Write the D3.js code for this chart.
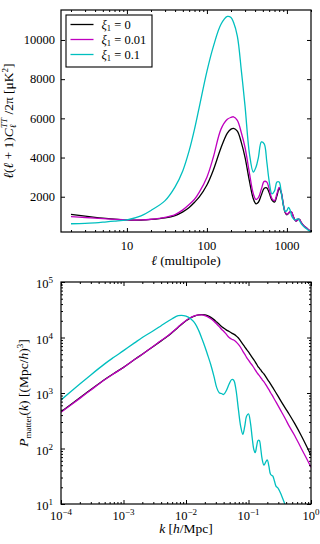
<!DOCTYPE html>
<html lang="en">
<head>
<meta charset="utf-8">
<title>CMB TT spectrum and matter power spectrum</title>
<script src="https://cdn.jsdelivr.net/npm/d3@7"></script>
<style>
  html, body { margin: 0; padding: 0; background: #fff; }
  svg { display: block; }
</style>
</head>
<body>
<div id="chart"></div>
<script>
// ---- data ----
var xiLabels = ["0", "0.01", "0.1"];
var lineColors = ["#000000", "#bf00bf", "#00bfbf"];

// top panel: l(l+1)C_l/2pi  [muK^2]
var ell = [2, 3, 4, 5, 7, 10, 15, 20, 30, 40, 50, 60, 70, 80, 100, 120, 150, 180, 200, 215,
  240, 270, 300, 340, 380, 410, 440, 480, 520, 560, 600, 650, 700, 750, 800, 850, 900, 950,
  1000, 1050, 1100, 1150, 1200, 1250, 1300, 1350, 1400, 1450, 1500, 1600, 1700, 1850, 2000];
var clXi0 = [1100, 1010, 950, 910, 860, 815, 810, 840, 920, 1040, 1230, 1450, 1720, 1980, 2600, 3350, 4500, 5250, 5450, 5490,
  5350, 4750, 4000, 2800, 1900, 1640, 1720, 2100, 2430, 2450, 2200, 1830, 1730, 2050, 2420, 2200, 1600, 1200,
  1080, 1150, 1230, 1200, 1000, 830, 760, 800, 850, 830, 700, 550, 450, 330, 240];
var clXi001 = [980, 940, 910, 880, 845, 815, 815, 850, 950, 1090, 1330, 1600, 1870, 2220, 3000, 4000, 5450, 5950, 6050, 6080,
  5900, 5250, 4500, 3200, 2150, 1860, 1950, 2400, 2780, 2750, 2400, 1900, 1800, 2150, 2480, 2250, 1650, 1230,
  1100, 1170, 1250, 1210, 1000, 830, 760, 800, 850, 830, 700, 550, 450, 330, 240];
var clXi01 = [620, 640, 670, 700, 750, 820, 1020, 1300, 1800, 2500, 3330, 4350, 5450, 6550, 8400, 9650, 10800, 11200, 11150, 10900,
  10200, 8400, 6600, 4200, 3260, 3500, 4000, 4800, 4700, 3800, 2800, 2150, 2300, 2750, 2750, 2200, 1600, 1250,
  1300, 1460, 1300, 1000, 880, 820, 830, 870, 860, 750, 640, 500, 400, 290, 210];

// bottom panel: P_matter(k)  [(Mpc/h)^3]
var kh = [1e-4, 2e-4, 3e-4, 5e-4, 7e-4, 1e-3, 1.5e-3, 2e-3, 3e-3, 4e-3, 5e-3, 6e-3, 7.5e-3, 0.01, 0.012,
  0.014, 0.016, 0.018, 0.02, 0.022, 0.025, 0.028, 0.031, 0.034, 0.037, 0.04, 0.044, 0.049, 0.054, 0.058,
  0.063, 0.069, 0.075, 0.081, 0.087, 0.093, 0.1, 0.107, 0.115, 0.122, 0.128, 0.135, 0.142, 0.149, 0.157,
  0.165, 0.177, 0.19, 0.2, 0.212, 0.226, 0.244, 0.26, 0.275, 0.3, 0.34, 0.39, 0.45, 0.55, 0.7, 0.85, 1.0];
var pkXi0 = [460, 820, 1150, 1750, 2250, 2900, 4000, 5000, 6900, 8700, 10400, 12300, 15300, 20000, 22800,
  24600, 25500, 25800, 25500, 24700, 23000, 21000, 19000, 17300, 15800, 14800, 13700, 12800, 12000, 11500,
  10800, 9800, 8600, 7600, 6800, 6100, 5500, 4900, 4350, 3950, 3650, 3300, 3000, 2800, 2600,
  2400, 2200, 1950, 1780, 1620, 1450, 1260, 1120, 1010, 860, 680, 530, 410, 280, 170, 110, 75];
var pkXi001 = [450, 800, 1130, 1730, 2230, 2880, 4000, 5000, 6950, 8800, 10500, 12400, 15500, 20200, 23000,
  24800, 25600, 25500, 24800, 23800, 21800, 19600, 17500, 15700, 14100, 13000, 11500, 10000, 9300, 9000,
  8400, 7500, 6600, 5700, 5000, 4400, 3900, 3500, 3150, 2850, 2600, 2380, 2200, 2050, 1900,
  1750, 1580, 1400, 1280, 1150, 1010, 880, 770, 690, 580, 450, 340, 250, 170, 100, 66, 46];
var pkXi01 = [750, 1450, 2120, 3350, 4400, 5800, 8000, 10000, 13200, 16300, 19200, 21800, 24700, 24300, 21500,
  17800, 13300, 9500, 6900, 5000, 3200, 2000, 1250, 1010, 980, 940, 1100, 1450, 1750, 1700,
  1150, 500, 250, 180, 250, 380, 420, 300, 150, 95, 84, 110, 140, 140, 100,
  65, 50, 58, 62, 48, 34, 32, 26, 21, 19, 14, 9.3, 6.3, 3.5, 1.8, 1.1, 0.8];

// tick labels
var ellTicks = [10, 100, 1000];
var clTicks = [2000, 4000, 6000, 8000, 10000];
var kExp = [-4, -3, -2, -1, 0];
var pkExp = [1, 2, 3, 4, 5];

// ---- layout ----
var W = 320, H = 544;
var L = 61, R = 311;
var top1 = 10, bot1 = 232, top2 = 282, bot2 = 504;
var FS = 12.5, FSL = 13.5, FSS = 9;

var svg = d3.select("#chart").append("svg")
  .attr("width", W).attr("height", H)
  .attr("font-family", "Liberation Serif");

var xTop = d3.scaleLog().domain([1.5, 2000]).range([L, R]);
var yTop = d3.scaleLinear().domain([200, 11530]).range([bot1, top1]);
var xBot = d3.scaleLog().domain([1e-4, 1]).range([L, R]);
var yBot = d3.scaleLog().domain([10, 1e5]).range([bot2, top2]);

function minorOf(scale, majors) {
  return scale.ticks().filter(function(v) {
    return majors.every(function(m) { return Math.abs(v / m - 1) > 1e-6; });
  });
}

// inward ticks on all four sides
function frame(g, x, y, top, bot, xMaj, xMin, yMaj, yMin) {
  var sets = [
    [d3.axisBottom(x), "translate(0," + bot + ")", xMaj, xMin],
    [d3.axisTop(x), "translate(0," + top + ")", xMaj, xMin],
    [d3.axisLeft(y), "translate(" + L + ",0)", yMaj, yMin],
    [d3.axisRight(y), "translate(" + R + ",0)", yMaj, yMin]
  ];
  sets.forEach(function(s) {
    [[s[2], -4], [s[3], -2]].forEach(function(t) {
      if (!t[0].length) return;
      var a = s[0].tickValues(t[0]).tickSize(t[1]).tickFormat("");
      var ag = g.append("g").attr("transform", s[1]).call(a);
      ag.select(".domain").remove();
      ag.selectAll("line").attr("stroke", "#000").attr("stroke-width", 1);
    });
  });
  g.append("rect")
    .attr("x", L).attr("y", top)
    .attr("width", R - L).attr("height", bot - top)
    .attr("fill", "none").attr("stroke", "#000").attr("stroke-width", 1.2);
}

function clip(id, top, bot) {
  svg.append("clipPath").attr("id", id)
    .append("rect").attr("x", L).attr("y", top).attr("width", R - L).attr("height", bot - top);
}
clip("c1", top1, bot1);
clip("c2", top2, bot2);

// ---- top panel ----
var g1 = svg.append("g");
var line1 = d3.line()
  .x(function(d) { return xTop(d[0]); })
  .y(function(d) { return yTop(d[1]); })
  .curve(d3.curveCatmullRom.alpha(0.5));

[clXi0, clXi001, clXi01].forEach(function(vals, i) {
  g1.append("path")
    .datum(ell.map(function(l, j) { return [l, vals[j]]; }))
    .attr("clip-path", "url(#c1)")
    .attr("d", line1)
    .attr("fill", "none")
    .attr("stroke", lineColors[i])
    .attr("stroke-width", 1.3);
});

frame(g1, xTop, yTop, top1, bot1, ellTicks, minorOf(xTop, ellTicks), clTicks, []);

g1.selectAll(".xt").data(ellTicks).enter().append("text")
  .attr("x", function(d) { return xTop(d); })
  .attr("y", 250)
  .attr("text-anchor", "middle")
  .attr("font-size", FS)
  .text(function(d) { return d; });

g1.selectAll(".yt").data(clTicks).enter().append("text")
  .attr("x", 55)
  .attr("y", function(d) { return yTop(d) + 4.3; })
  .attr("text-anchor", "end")
  .attr("font-size", FS)
  .text(function(d) { return d; });

g1.append("text")
  .attr("x", (L + R) / 2).attr("y", 265)
  .attr("text-anchor", "middle")
  .attr("font-size", FSL)
  .html('<tspan font-style="italic">ℓ</tspan> (multipole)');

g1.append("text")
  .attr("transform", "translate(13," + ((top1 + bot1) / 2) + ") rotate(-90)")
  .attr("text-anchor", "middle")
  .attr("font-size", FSL)
  .html('<tspan font-style="italic">ℓ</tspan>(<tspan font-style="italic">ℓ</tspan> + 1)' +
        '<tspan font-style="italic">C</tspan>' +
        '<tspan font-size="' + FSS + '" font-style="italic" dy="3">ℓ</tspan>' +
        '<tspan font-size="' + FSS + '" font-style="italic" dx="-3.5" dy="-9">TT</tspan>' +
        '<tspan dy="6"> /2π [μK</tspan><tspan font-size="' + FSS + '" dy="-5">2</tspan><tspan dy="5">]</tspan>');

// legend
var lg = g1.append("g");
lg.append("rect")
  .attr("x", 66).attr("y", 15).attr("width", 86).attr("height", 52)
  .attr("fill", "#fff").attr("stroke", "#000").attr("stroke-width", 1.1);
xiLabels.forEach(function(lab, i) {
  var yy = 24.5 + i * 15;
  lg.append("line")
    .attr("x1", 70.5).attr("x2", 93.5).attr("y1", yy).attr("y2", yy)
    .attr("stroke", lineColors[i]).attr("stroke-width", 1.3);
  lg.append("text")
    .attr("x", 101.5).attr("y", yy + 4)
    .attr("font-size", FS)
    .html('<tspan font-style="italic">ξ</tspan><tspan font-size="' + (FSS - 0.5) + '" dy="2.5">1</tspan>' +
          '<tspan dy="-2.5"> = ' + lab + '</tspan>');
});

// ---- bottom panel ----
var g2 = svg.append("g");
var line2 = d3.line()
  .x(function(d) { return xBot(d[0]); })
  .y(function(d) { return yBot(d[1]); })
  .curve(d3.curveCatmullRom.alpha(0.5));

[pkXi0, pkXi001, pkXi01].forEach(function(vals, i) {
  g2.append("path")
    .datum(kh.map(function(k, j) { return [k, vals[j]]; }))
    .attr("clip-path", "url(#c2)")
    .attr("d", line2)
    .attr("fill", "none")
    .attr("stroke", lineColors[i])
    .attr("stroke-width", 1.3);
});

var kMaj = kExp.map(function(e) { return Math.pow(10, e); });
var pMaj = pkExp.map(function(e) { return Math.pow(10, e); });
frame(g2, xBot, yBot, top2, bot2, kMaj, minorOf(xBot, kMaj), pMaj, minorOf(yBot, pMaj));

function powLabel(e) {
  return '10<tspan font-size="' + FSS + '" dy="-5">' + (e < 0 ? "\u2212" + (-e) : e) + '</tspan>';
}

g2.selectAll(".xt").data(kExp).enter().append("text")
  .attr("x", function(e) { return xBot(Math.pow(10, e)); })
  .attr("y", 520)
  .attr("text-anchor", "middle")
  .attr("font-size", FS)
  .html(powLabel);

g2.selectAll(".yt").data(pkExp).enter().append("text")
  .attr("x", 53)
  .attr("y", function(e) { return yBot(Math.pow(10, e)) + 6; })
  .attr("text-anchor", "end")
  .attr("font-size", FS)
  .html(powLabel);

g2.append("text")
  .attr("x", (L + R) / 2).attr("y", 533)
  .attr("text-anchor", "middle")
  .attr("font-size", FSL)
  .html('<tspan font-style="italic">k</tspan> [<tspan font-style="italic">h</tspan>/Mpc]');

g2.append("text")
  .attr("transform", "translate(28," + ((top2 + bot2) / 2) + ") rotate(-90)")
  .attr("text-anchor", "middle")
  .attr("font-size", FSL)
  .html('<tspan font-style="italic">P</tspan><tspan font-size="' + FSS + '" dy="3">matter</tspan>' +
        '<tspan dy="-3">(<tspan font-style="italic">k</tspan>) [(Mpc/<tspan font-style="italic">h</tspan>)</tspan>' +
        '<tspan font-size="' + FSS + '" dy="-5">3</tspan><tspan dy="5">]</tspan>');
</script>
</body>
</html>
